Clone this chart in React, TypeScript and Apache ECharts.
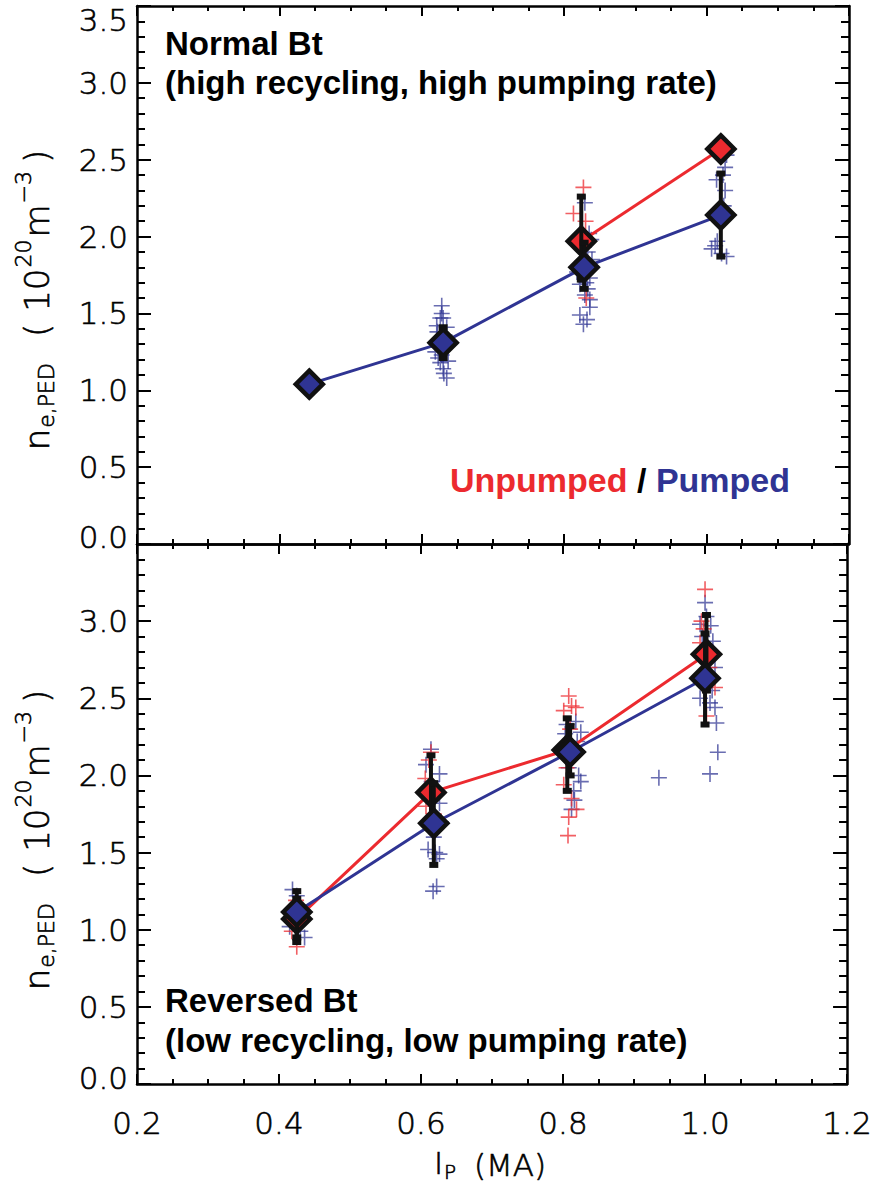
import React, { useEffect, useRef } from "react";
import * as echarts from "echarts";

const RED = "#ec2a2f";
const BLUE = "#2f3493";
const INK = "#000000";
const TICK_FONT = '"DejaVu Sans", sans-serif';
const TICK_WEIGHT = 200;
const BOLD_FONT = '"Liberation Sans", Arial, sans-serif';

// ---------- x axis ----------
const X_MIN = 0.2;
const X_MAX = 1.2;
const X_STEP = 0.2;
// ---------- y axes ----------
const Y_MIN = 0;
const Y_MAX = 3.5;
const Y_STEP = 0.5;

// ---------- top panel (Normal Bt) ----------
const topUnpumpedX = [0.824, 1.02];
const topUnpumpedY = [1.97, 2.57];
const topPumpedX = [0.442, 0.63, 0.828, 1.02];
const topPumpedY = [1.04, 1.31, 1.8, 2.14];
// [x, low, high]
const topUnpumpedErr = [[0.824, 1.72, 2.26]];
const topPumpedErr = [
  [0.63, 1.21, 1.41],
  [0.828, 1.66, 1.96],
  [1.02, 1.87, 2.41],
];
const topPumpedShots = [
  [0.628, 1.55], [0.628, 1.5], [0.63, 1.47], [0.626, 1.47], [0.621, 1.42], [0.635, 1.41],
  [0.619, 1.25], [0.628, 1.23], [0.623, 1.21], [0.637, 1.19], [0.626, 1.18], [0.63, 1.14],
  [0.635, 1.08], [0.632, 1.36], [0.625, 1.33], [0.634, 1.29], [0.622, 1.38], [0.631, 1.11],
  [0.829, 2.22], [0.833, 1.9], [0.839, 1.85], [0.818, 1.77], [0.836, 1.73], [0.822, 1.69],
  [0.833, 1.66], [0.836, 1.59], [0.836, 1.54], [0.822, 1.49], [0.832, 1.46], [0.827, 1.43],
  [0.838, 1.98], [0.835, 2.02], [0.824, 1.76], [0.829, 1.62], [0.831, 1.7], [0.826, 1.84],
  [1.026, 2.45], [1.014, 2.37], [1.023, 2.4], [1.012, 1.94], [1.007, 1.92], [1.028, 1.87],
  [1.021, 1.89], [1.028, 2.53], [1.026, 2.3], [1.024, 2.2], [1.015, 1.97],
];
const topUnpumpedShots = [
  [0.827, 2.32], [0.813, 2.15], [0.831, 1.6], [0.83, 2.1],
];

// ---------- bottom panel (Reversed Bt) ----------
const botUnpumpedX = [0.425, 0.614, 0.806, 1.002];
const botUnpumpedY = [1.07, 1.89, 2.165, 2.785];
const botPumpedX = [0.425, 0.618, 0.81, 1.0];
const botPumpedY = [1.115, 1.69, 2.152, 2.63];
const botUnpumpedErr = [
  [0.425, 0.92, 1.2],
  [0.614, 1.72, 2.13],
  [0.806, 1.9, 2.37],
  [1.002, 2.55, 3.04],
];
const botPumpedErr = [
  [0.425, 0.95, 1.25],
  [0.618, 1.42, 1.95],
  [0.81, 2.0, 2.32],
  [1.0, 2.33, 2.92],
];
const botPumpedShots = [
  [0.419, 1.26], [0.425, 1.22], [0.415, 1.02], [0.436, 0.95], [0.428, 1.15], [0.43, 0.99], [0.42, 1.08],
  [0.614, 2.17], [0.607, 2.07], [0.626, 2.01], [0.626, 1.82], [0.62, 1.5], [0.626, 1.49],
  [0.622, 1.46], [0.622, 1.28], [0.617, 1.25], [0.61, 1.52], [0.618, 1.6], [0.628, 1.7], [0.615, 1.96],
  [0.805, 2.33], [0.818, 2.35], [0.825, 2.28], [0.803, 2.27], [0.822, 2.0], [0.825, 1.96],
  [0.812, 1.78], [0.815, 1.9], [0.813, 2.12], [0.82, 2.22], [0.808, 2.05], [0.816, 1.84],
  [1.0, 3.12], [0.993, 2.98], [1.008, 2.97], [1.011, 2.87], [1.014, 2.7], [0.993, 2.5],
  [1.007, 2.47], [1.014, 2.44], [1.016, 2.34], [1.018, 2.15], [1.007, 2.01], [0.935, 1.985],
  [1.003, 2.6], [0.998, 2.8], [1.01, 2.55], [0.996, 2.9], [1.002, 3.03],
];
const botUnpumpedShots = [
  [0.425, 0.89], [0.429, 1.13], [0.418, 0.99], [0.424, 1.19],
  [0.614, 2.15], [0.607, 1.8], [0.611, 2.1], [0.606, 1.98], [0.618, 1.75],
  [0.808, 2.515], [0.812, 2.45], [0.801, 2.42], [0.818, 2.44], [0.803, 2.2], [0.801, 1.94],
  [0.812, 1.85], [0.819, 1.78], [0.808, 1.73], [0.807, 1.61], [0.81, 2.3], [0.805, 2.05],
  [1.0, 3.206], [0.995, 3.0], [0.993, 2.86], [1.014, 2.57], [1.002, 2.385], [1.006, 2.7], [0.998, 2.95],
];

const CROSS = "path://M9,0h2v9h9v2h-9v9h-2v-9h-9v-2h9z";

const zip = (xs: number[], ys: number[]) => xs.map((x, i) => [x, ys[i]]);

function measure(text: string, size: number, family: string, weight: any = "normal") {
  const c = document.createElement("canvas").getContext("2d");
  if (!c) return text.length * size * 0.6;
  c.font = `${weight} ${size}px ${family}`;
  return c.measureText(text).width;
}

function errRender(params: any, api: any) {
  const x = api.value(0);
  const lo = api.value(1);
  const hi = api.value(2);
  const a = api.coord([x, hi]);
  const b = api.coord([x, lo]);
  const cw = 9;
  const ch = 6;
  return {
    type: "group",
    children: [
      { type: "line", shape: { x1: a[0], y1: a[1], x2: b[0], y2: b[1] }, style: { stroke: "#111", lineWidth: 4 } },
      { type: "rect", shape: { x: a[0] - cw / 2, y: a[1] - ch / 2, width: cw, height: ch }, style: { fill: "#111" } },
      { type: "rect", shape: { x: b[0] - cw / 2, y: b[1] - ch / 2, width: cw, height: ch }, style: { fill: "#111" } },
    ],
  };
}

const thinText = {
  fontFamily: TICK_FONT,
  fontWeight: TICK_WEIGHT,
  fill: INK,
  stroke: INK,
  lineWidth: 0.6,
};

function yTitle(cx: number, cy: number) {
  const pieces = [
    { t: "n", s: 34, dy: 0, gap: 0 },
    { t: "e,PED", s: 22, dy: 9, gap: 1 },
    { t: "(", s: 34, dy: 0, gap: 26 },
    { t: "10", s: 34, dy: 0, gap: 12 },
    { t: "20", s: 22, dy: -14, gap: 1 },
    { t: "m", s: 34, dy: 0, gap: 2 },
    { t: "\u22123", s: 22, dy: -14, gap: 1 },
    { t: ")", s: 34, dy: 0, gap: 8 },
  ];
  let pos = 0;
  const placed = pieces.map((p) => {
    pos += p.gap;
    const w = measure(p.t, p.s, TICK_FONT, TICK_WEIGHT);
    const item = { ...p, x: pos };
    pos += w;
    return item;
  });
  const total = pos;
  return {
    type: "group",
    x: cx,
    y: cy,
    rotation: Math.PI / 2,
    children: placed.map((p) => ({
      type: "text",
      x: p.x - total / 2,
      y: p.dy,
      style: {
        ...thinText,
        text: p.t,
        fontSize: p.s,
        align: "left",
        verticalAlign: "middle",
      },
    })),
  };
}

function boldText(text: string, x: number, y: number, align = "left") {
  return {
    type: "text",
    x,
    y,
    style: {
      text,
      fontSize: 33,
      fontWeight: "bold",
      fontFamily: BOLD_FONT,
      fill: INK,
      align,
      verticalAlign: "middle",
    },
  };
}

const axisLineStyle = { color: INK, width: 2.5 };
const tickLineStyle = { color: INK, width: 2 };

function xAxis(gridIndex: number, position: string, showLabel: boolean) {
  return {
    type: "value",
    gridIndex,
    position,
    min: X_MIN,
    max: X_MAX,
    interval: X_STEP,
    axisLine: { show: true, onZero: false, lineStyle: axisLineStyle },
    axisTick: { show: true, inside: true, length: 10, lineStyle: tickLineStyle },
    minorTick: { show: true, splitNumber: 4, length: 5, lineStyle: tickLineStyle },
    splitLine: { show: false },
    minorSplitLine: { show: false },
    axisLabel: {
      show: showLabel,
      margin: 23,
      fontSize: 31,
      fontFamily: TICK_FONT,
      fontWeight: TICK_WEIGHT,
      color: INK,
      textBorderColor: INK,
      textBorderWidth: 0.6,
      formatter: (v: number) => v.toFixed(1),
    },
  };
}

const labelBase = {
  fontSize: 31,
  fontFamily: TICK_FONT,
  fontWeight: TICK_WEIGHT,
  color: INK,
  textBorderColor: INK,
  textBorderWidth: 0.6,
};
const labelRich = {
  a: { ...labelBase },
  p: { ...labelBase, padding: [28, 0, 0, 0] },
  q: { ...labelBase, padding: [0, 0, 14, 0] },
  r: { ...labelBase, padding: [0, 0, 12, 0] },
};

function yAxis(gridIndex: number, position: string, formatter: any) {
  return {
    type: "value",
    gridIndex,
    position,
    min: Y_MIN,
    max: Y_MAX,
    interval: Y_STEP,
    axisLine: { show: true, onZero: false, lineStyle: axisLineStyle },
    axisTick: { show: true, inside: true, length: 14, lineStyle: tickLineStyle },
    minorTick: { show: true, splitNumber: 5, length: 8, lineStyle: tickLineStyle },
    splitLine: { show: false },
    minorSplitLine: { show: false },
    axisLabel: formatter
      ? { show: true, margin: 9, formatter, rich: labelRich, ...labelBase }
      : { show: false },
  };
}

const topFmt = (v: number) =>
  v === 3.5 ? "{p|3.5}" : v === 0 ? "{q|0.0}" : `{a|${v.toFixed(1)}}`;
const botFmt = (v: number) =>
  v === 3.5 ? "" : v === 0 ? "{r|0.0}" : `{a|${v.toFixed(1)}}`;

function panelSeries(
  xi: number,
  yi: number,
  unX: number[],
  unY: number[],
  puX: number[],
  puY: number[],
  unErr: number[][],
  puErr: number[][],
  unShots: number[][],
  puShots: number[][]
) {
  const common = { xAxisIndex: xi, yAxisIndex: yi };
  return [
    {
      ...common,
      type: "scatter",
      data: puShots,
      symbol: CROSS,
      symbolSize: 16,
      itemStyle: { color: BLUE, opacity: 0.72 },
      z: 1,
    },
    {
      ...common,
      type: "scatter",
      data: unShots,
      symbol: CROSS,
      symbolSize: 16,
      itemStyle: { color: RED, opacity: 0.75 },
      z: 1,
    },
    {
      ...common,
      type: "line",
      data: zip(unX, unY),
      symbol: "none",
      lineStyle: { color: RED, width: 3 },
      z: 2,
    },
    {
      ...common,
      type: "line",
      data: zip(puX, puY),
      symbol: "none",
      lineStyle: { color: BLUE, width: 3 },
      z: 2,
    },
    {
      ...common,
      type: "scatter",
      data: zip(unX, unY),
      symbol: "diamond",
      symbolSize: 27,
      itemStyle: { color: RED, borderColor: "#111", borderWidth: 4.5, opacity: 1 },
      z: 3,
    },
    {
      ...common,
      type: "custom",
      data: [...unErr, ...puErr],
      renderItem: errRender,
      encode: { x: 0, y: [1, 2] },
      z: 4,
    },
    {
      ...common,
      type: "scatter",
      data: zip(puX, puY),
      symbol: "diamond",
      symbolSize: 27,
      itemStyle: { color: BLUE, borderColor: "#111", borderWidth: 4.5, opacity: 1 },
      z: 5,
    },
  ];
}

export default function App() {
  const ref = useRef<HTMLDivElement>(null);
  useEffect(() => {
    document.body.style.margin = "0";
    if (!ref.current) return;
    const chart = echarts.init(ref.current, null, { renderer: "svg" });
    const option: any = {
      animation: false,
      backgroundColor: "#ffffff",
      grid: [
        { left: 137, top: 6, width: 712, height: 538 },
        { left: 137, top: 544, width: 712, height: 540 },
      ],
      xAxis: [
        xAxis(0, "bottom", false),
        xAxis(0, "top", false),
        xAxis(1, "bottom", true),
        xAxis(1, "top", false),
      ],
      yAxis: [
        yAxis(0, "left", topFmt),
        yAxis(0, "right", null),
        yAxis(1, "left", botFmt),
        yAxis(1, "right", null),
      ],
      series: [
        ...panelSeries(0, 0, topUnpumpedX, topUnpumpedY, topPumpedX, topPumpedY, topUnpumpedErr, topPumpedErr, topUnpumpedShots, topPumpedShots),
        ...panelSeries(2, 2, botUnpumpedX, botUnpumpedY, botPumpedX, botPumpedY, botUnpumpedErr, botPumpedErr, botUnpumpedShots, botPumpedShots),
      ],
      graphic: [
        boldText("Normal Bt", 165, 43),
        boldText("(high recycling, high pumping rate)", 165, 82),
        {
          type: "text",
          x: 790,
          y: 480,
          style: {
            text: "{r|Unpumped}{k| / }{b|Pumped}",
            align: "right",
            verticalAlign: "middle",
            fontSize: 34,
            fontWeight: "bold",
            fontFamily: BOLD_FONT,
            rich: {
              r: { fill: RED, fontSize: 34, fontWeight: "bold", fontFamily: BOLD_FONT },
              k: { fill: INK, fontSize: 34, fontWeight: "bold", fontFamily: BOLD_FONT },
              b: { fill: BLUE, fontSize: 34, fontWeight: "bold", fontFamily: BOLD_FONT },
            },
          },
        },
        boldText("Reversed Bt", 165, 1000),
        boldText("(low recycling, low pumping rate)", 165, 1040),
        yTitle(37, 300),
        yTitle(37, 840),
        {
          type: "text",
          x: 434,
          y: 1163,
          style: { ...thinText, text: "I", fontSize: 31, align: "left", verticalAlign: "middle" },
        },
        {
          type: "text",
          x: 444,
          y: 1172,
          style: { ...thinText, text: "P", fontSize: 20, align: "left", verticalAlign: "middle" },
        },
        {
          type: "text",
          x: 474,
          y: 1165,
          style: { ...thinText, text: "(MA)", fontSize: 31, align: "left", verticalAlign: "middle" },
        },
      ],
    };
    chart.setOption(option);
    return () => chart.dispose();
  }, []);
  return <div ref={ref} style={{ width: 875, height: 1184 }} />;
}
